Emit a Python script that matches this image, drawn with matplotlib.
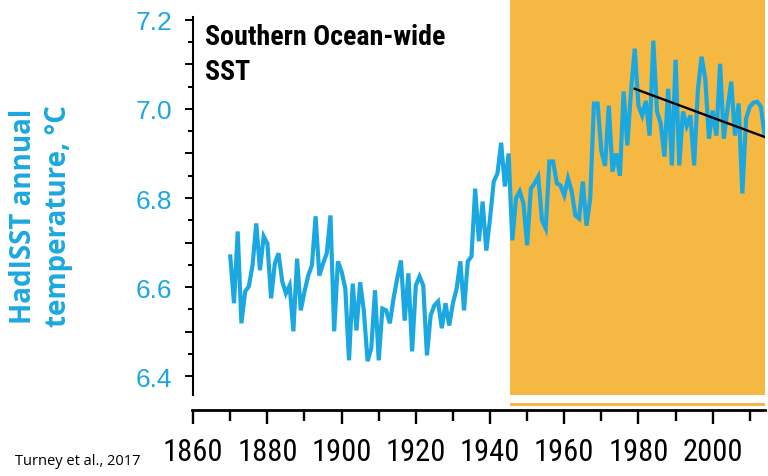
import matplotlib
matplotlib.use('Agg')
import matplotlib.pyplot as plt
from matplotlib import font_manager
from matplotlib.ticker import FixedLocator, FuncFormatter
import numpy as np

# HadISST annual Southern Ocean-wide SST
years = list(range(1870, 2015))
sst = [
    6.669, 6.564, 6.725, 6.519, 6.590, 6.602, 6.649, 6.743, 6.638, 6.714,  # 1870s
    6.698, 6.575, 6.653, 6.676, 6.613, 6.586, 6.604, 6.501, 6.664, 6.548,  # 1880s
    6.590, 6.626, 6.649, 6.759, 6.626, 6.653, 6.676, 6.761, 6.501, 6.658,  # 1890s
    6.635, 6.597, 6.436, 6.608, 6.503, 6.611, 6.546, 6.434, 6.463, 6.593,  # 1900s
    6.436, 6.552, 6.548, 6.519, 6.575, 6.620, 6.660, 6.525, 6.631, 6.456,  # 1910s
    6.604, 6.624, 6.604, 6.447, 6.537, 6.559, 6.568, 6.508, 6.564, 6.514,  # 1920s
    6.564, 6.597, 6.658, 6.548, 6.658, 6.669, 6.821, 6.703, 6.792, 6.682,  # 1930s
    6.754, 6.837, 6.855, 6.924, 6.826, 6.900, 6.705, 6.799, 6.815, 6.788,  # 1940s
    6.694, 6.821, 6.833, 6.848, 6.750, 6.732, 6.882, 6.882, 6.833, 6.828,  # 1950s
    6.806, 6.844, 6.815, 6.761, 6.754, 6.837, 6.738, 6.799, 7.012, 7.012,  # 1960s
    6.905, 6.872, 7.007, 6.859, 6.900, 6.850, 7.039, 6.918, 7.041, 7.135,  # 1970s
    7.007, 6.985, 7.018, 6.940, 7.153, 6.994, 6.967, 6.893, 7.045, 6.873,  # 1980s
    7.110, 6.873, 6.994, 6.962, 6.985, 6.873, 7.041, 7.117, 7.068, 6.933,  # 1990s
    6.996, 6.940, 7.101, 6.933, 7.001, 7.061, 6.940, 7.012, 6.810, 6.978,  # 2000s
    7.005, 7.014, 7.016, 7.005, 6.940,                                     # 2010s
]

# linear trend drawn over the recent period
trend_years = [1979, 2014]
trend_vals = [7.045, 6.937]

# shaded period
shade_start = 1945.5
shade_end = 2014.1

xticks_major = [1860, 1880, 1900, 1920, 1940, 1960, 1980, 2000]
xticks_minor = [1870, 1890, 1910, 1930, 1950, 1970, 1990, 2010]
yticks_major = [6.4, 6.5, 6.6, 6.7, 6.8, 6.9, 7.0, 7.1, 7.2]
yticks_minor = [6.45, 6.55, 6.65, 6.75, 6.85, 6.95, 7.05, 7.15]
ylabels_shown = [6.4, 6.6, 6.8, 7.0, 7.2]

blue = '#1ba8e0'
orange = '#f5b843'

# pick a narrow font if one is installed
fnames = {f.name for f in font_manager.fontManager.ttflist}
narrow = None
for n in ['Liberation Sans Narrow', 'Roboto Condensed', 'Open Sans Condensed',
          'DejaVu Sans Condensed', 'Noto Sans Condensed']:
    if n in fnames:
        narrow = n
        break
cond_stretch = 'normal'
if narrow is None:
    for f in font_manager.fontManager.ttflist:
        if f.stretch in ('condensed', 'semi-condensed') and f.name in ('DejaVu Sans', 'Roboto', 'Noto Sans', 'Open Sans'):
            narrow = f.name
            cond_stretch = 'condensed'
            break

fig = plt.figure(figsize=(7.68, 4.77), dpi=100)
ax = fig.add_axes([191.5 / 768, 66.3 / 477, 573.5 / 768, 410.7 / 477])
ax.set_xlim(1859.55, 2014.1)
ax.set_ylim(6.3252, 7.2464)

# orange block + thin strip just above the x axis
ax.fill_between([shade_start, shade_end], 6.358, 7.2464, color=orange, lw=0, zorder=0)
ax.fill_between([shade_start, shade_end], 6.3328, 6.340, color=orange, lw=0, zorder=0)

ax.plot(years, sst, color=blue, lw=3.0, solid_joinstyle='miter', zorder=2)
ax.plot(trend_years, trend_vals, color='black', lw=1.7, zorder=3)

for s in ['top', 'right']:
    ax.spines[s].set_visible(False)
ax.spines['left'].set_position(('data', 1860))
ax.spines['left'].set_bounds(6.358, 7.205)
ax.spines['left'].set_linewidth(1.5)
ax.spines['bottom'].set_linewidth(2.0)

ax.xaxis.set_major_locator(FixedLocator(xticks_major))
ax.xaxis.set_minor_locator(FixedLocator(xticks_minor))
ax.yaxis.set_major_locator(FixedLocator(yticks_major))
ax.yaxis.set_minor_locator(FixedLocator(yticks_minor))
ax.yaxis.set_major_formatter(FuncFormatter(
    lambda v, p: '%.1f' % v if any(abs(v - s) < 1e-6 for s in ylabels_shown) else ''))

ax.tick_params(axis='x', which='major', direction='out', length=10, width=1.7, pad=10)
ax.tick_params(axis='x', which='minor', direction='out', length=8, width=1.7)
ax.tick_params(axis='y', which='major', direction='out', length=6, width=1.4, pad=9,
               labelcolor=blue)
ax.tick_params(axis='y', which='minor', direction='out', length=3.6, width=1.4)

for lab in ax.get_xticklabels():
    if narrow:
        lab.set_family([narrow])
        lab.set_stretch(cond_stretch)
        lab.set_fontsize(22)
    else:
        lab.set_family(['Liberation Sans'])
        lab.set_fontsize(19.5)
for lab in ax.get_yticklabels():
    lab.set_family(['Liberation Sans'])
    lab.set_fontsize(19)

fig.text(41 / 768, 1 - 216 / 477, 'HadISST annual\ntemperature, \u00b0C', rotation=90,
         ha='center', va='center', color=blue, fontsize=20, fontweight='bold',
         family=['Open Sans', 'DejaVu Sans'], linespacing=1.25)

# title in a condensed bold face, sized so the first line is about 235 px wide
title_font = [narrow] if narrow else ['Open Sans', 'DejaVu Sans']
title = fig.text(205 / 768, 1 - 24 / 477, 'Southern Ocean-wide\nSST', ha='left', va='top',
                 color='black', fontsize=18, fontweight='bold', family=title_font,
                 stretch=cond_stretch, linespacing=1.4)
r = fig.canvas.get_renderer()
probe = fig.text(0, 0, 'Southern Ocean-wide', fontsize=18, fontweight='bold',
                 family=title_font, stretch=cond_stretch)
w = probe.get_window_extent(r).width
probe.remove()
title.set_fontsize(min(22, 18 * 240.0 / w))

fig.text(15 / 768, 1 - 462 / 477, 'Turney et al., 2017', ha='left', va='center',
         color='black', fontsize=10.5, family=['Open Sans', 'DejaVu Sans'])

fig.savefig('out.png', dpi=100)
